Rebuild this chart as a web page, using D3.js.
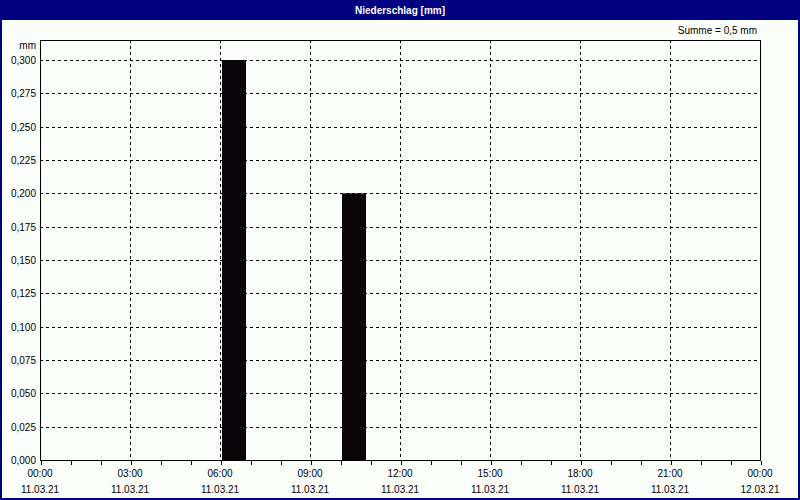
<!DOCTYPE html>
<html>
<head>
<meta charset="utf-8">
<script src="https://cdn.jsdelivr.net/npm/d3@7"></script>
<style>
  body { margin: 0; background: #fcfefc; }
  text { font-family: "Liberation Sans", Arial, sans-serif; font-size: 10px; fill: #000; }
</style>
</head>
<body>
<script>
// data
var hours = [6, 10];          // hour the bar starts at
var values = [0.3, 0.2];      // mm in that hour
var yTicks = [0, 0.025, 0.05, 0.075, 0.1, 0.125, 0.15, 0.175, 0.2, 0.225, 0.25, 0.275, 0.3];
var xLabelHours = [0, 3, 6, 9, 12, 15, 18, 21, 24];
var xLabelTimes = ['00:00', '03:00', '06:00', '09:00', '12:00', '15:00', '18:00', '21:00', '00:00'];
var xLabelDates = ['11.03.21', '11.03.21', '11.03.21', '11.03.21', '11.03.21', '11.03.21', '11.03.21', '11.03.21', '12.03.21'];

var W = 800, H = 500;
var plot = {left: 40, right: 760, top: 40, bottom: 460};

var svg = d3.select('body').append('svg').attr('width', W).attr('height', H);

// frame + title bar
svg.append('rect').attr('x', 0).attr('y', 0).attr('width', W).attr('height', H).attr('fill', '#fcfefc');
svg.append('rect').attr('x', 0).attr('y', 0).attr('width', W).attr('height', 20).attr('fill', '#000080');
svg.append('rect').attr('x', 1).attr('y', 1).attr('width', W - 2).attr('height', H - 2)
    .attr('fill', 'none').attr('stroke', '#000080').attr('stroke-width', 2);
svg.append('text').attr('x', W / 2).attr('y', 14).attr('text-anchor', 'middle')
    .style('fill', '#fff').style('font-weight', 'bold').text('Niederschlag [mm]');
svg.append('text').attr('x', 757).attr('y', 34).attr('text-anchor', 'end').text('Summe = 0,5 mm');

var x = d3.scaleLinear().domain([0, 24]).range([plot.left, plot.right]);
var y = d3.scaleLinear().domain([0, 0.315]).range([plot.bottom, plot.top]);
var fmt = function(v) { return d3.format('.3f')(v).replace('.', ','); };

// grid
var grid = svg.append('g').attr('stroke', '#000').attr('stroke-dasharray', '3,3').attr('shape-rendering', 'crispEdges');
grid.selectAll('.hg').data(yTicks.slice(1)).enter().append('line')
    .attr('x1', plot.left).attr('x2', plot.right)
    .attr('y1', function(d) { return Math.round(y(d)) + 0.5; })
    .attr('y2', function(d) { return Math.round(y(d)) + 0.5; });
grid.selectAll('.vg').data(xLabelHours.slice(1, -1)).enter().append('line')
    .attr('y1', plot.top).attr('y2', plot.bottom)
    .attr('x1', function(d) { return x(d) + 0.5; })
    .attr('x2', function(d) { return x(d) + 0.5; });

// bars: fill the hour, with a small gap on each side
svg.append('g').selectAll('rect').data(values).enter().append('rect')
    .attr('x', function(d, i) { return x(hours[i]) + 2; })
    .attr('width', function(d, i) { return x(hours[i] + 1) - x(hours[i]) - 6; })
    .attr('y', function(d) { return y(d); })
    .attr('height', function(d) { return y(0) - y(d); })
    .attr('fill', '#080408');

// plot box
svg.append('rect').attr('x', plot.left + 0.5).attr('y', plot.top + 0.5)
    .attr('width', plot.right - plot.left).attr('height', plot.bottom - plot.top)
    .attr('fill', 'none').attr('stroke', '#000').attr('shape-rendering', 'crispEdges');

// y labels
svg.append('g').selectAll('text').data(yTicks).enter().append('text')
    .attr('x', 36).attr('y', function(d) { return y(d) + 4; })
    .attr('text-anchor', 'end').text(fmt);
svg.append('text').attr('x', 36).attr('y', 49).attr('text-anchor', 'end').text('mm');

// x axis: hourly ticks under the box
var xAxis = d3.axisBottom(x).tickValues(d3.range(0, 25)).tickSize(4).tickFormat('');
var xa = svg.append('g').attr('transform', 'translate(0.5,' + (plot.bottom + 0.5) + ')').call(xAxis);
xa.select('.domain').remove();
xa.selectAll('line').attr('shape-rendering', 'crispEdges');

var xl = svg.append('g').selectAll('g').data(xLabelHours).enter().append('g');
xl.append('text').attr('x', function(d) { return x(d); }).attr('y', 477).attr('text-anchor', 'middle')
    .text(function(d, i) { return xLabelTimes[i]; });
xl.append('text').attr('x', function(d) { return x(d); }).attr('y', 493).attr('text-anchor', 'middle')
    .text(function(d, i) { return xLabelDates[i]; });
</script>
</body>
</html>
